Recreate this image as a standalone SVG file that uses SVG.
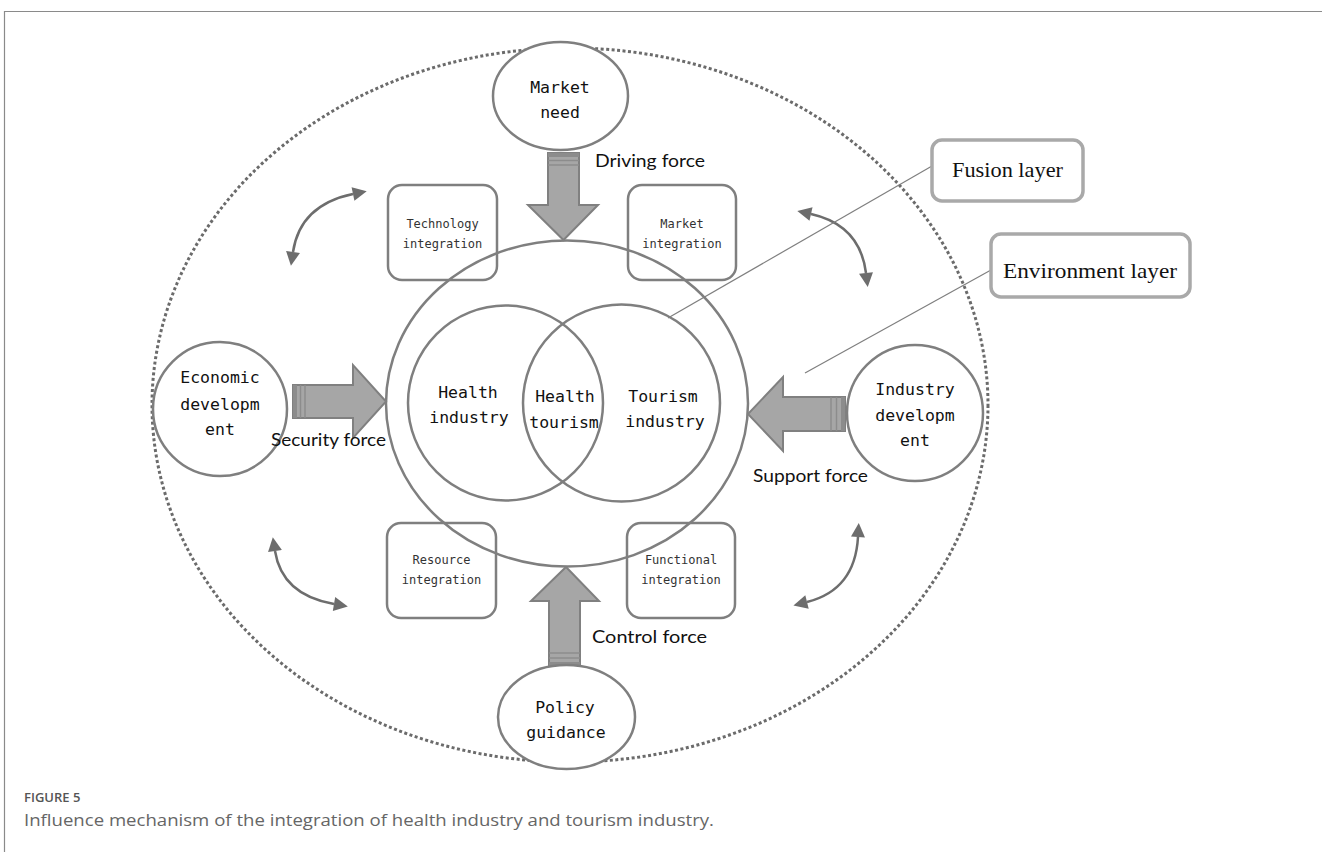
<svg xmlns="http://www.w3.org/2000/svg" width="1322" height="852" viewBox="0 0 1322 852">
<style>
.frame{stroke:#8a8a8a;stroke-width:1.2;fill:none}
.outer{fill:none;stroke:#6b6b6b;stroke-width:3;stroke-dasharray:3 2.5}
.shape{fill:none;stroke:#7f7f7f;stroke-width:2.5}
.node{fill:#fff;stroke:#7f7f7f;stroke-width:2.5}
.box{fill:none;stroke:#7f7f7f;stroke-width:2.5}
.lbox{fill:#fff;stroke:#a9a9a9;stroke-width:3.5}
.arrow{fill:#a6a6a6;stroke:#808080;stroke-width:2}
.stripe{fill:#8c8c8c}
.sline{stroke:#8c8c8c;stroke-width:1.5}
.curve{fill:none;stroke:#6d6d6d;stroke-width:2.5}
.leader{stroke:#7f7f7f;stroke-width:1.2}
.mono{font-family:"DejaVu Sans Mono","Liberation Mono",monospace;fill:#111;text-anchor:middle}
.big{font-size:16.5px}
.small{font-size:12px;fill:#333}
.force{font-family:Lato,"Open Sans",sans-serif;font-size:18px;fill:#111}
.serif{font-family:"Liberation Serif",serif;font-size:22px;fill:#111;text-anchor:middle}
.cap1{font-family:"Open Sans",Lato,sans-serif;font-size:13px;fill:#555;font-weight:600}
.cap2{font-family:"Open Sans",Lato,sans-serif;font-size:16.5px;fill:#666}
</style>
<defs>
<marker id="ah" viewBox="0 0 10 10" refX="0" refY="5" markerUnits="userSpaceOnUse" markerWidth="15" markerHeight="14" orient="auto-start-reverse">
<path d="M0,0 L10,5 L0,10 z" fill="#6d6d6d"/>
</marker>
</defs>
<rect width="1322" height="852" fill="#fff"/>
<g id="frame">
<line class="frame" x1="4" y1="11.5" x2="1322" y2="11.5"/>
<line class="frame" x1="4.5" y1="11" x2="4.5" y2="852"/>
</g>
<g id="environment-ellipse">
<ellipse class="outer" cx="570" cy="405" rx="418" ry="357"/>
</g>
<g id="integration-boxes">
<g id="technology-integration">
<rect class="box" x="388" y="185" width="109" height="95" rx="14"/>
<text class="mono small" x="442.5" y="228">Technology</text>
<text class="mono small" x="442.5" y="248">integration</text>
</g>
<g id="market-integration">
<rect class="box" x="628" y="185" width="108" height="95" rx="14"/>
<text class="mono small" x="682" y="228">Market</text>
<text class="mono small" x="682" y="248">integration</text>
</g>
<g id="resource-integration">
<rect class="box" x="387" y="523" width="109" height="95" rx="14"/>
<text class="mono small" x="441.5" y="564">Resource</text>
<text class="mono small" x="441.5" y="584">integration</text>
</g>
<g id="functional-integration">
<rect class="box" x="627" y="523" width="108" height="95" rx="14"/>
<text class="mono small" x="681" y="564">Functional</text>
<text class="mono small" x="681" y="584">integration</text>
</g>
</g>
<g id="fusion-circle">
<ellipse class="shape" cx="567" cy="403.5" rx="181" ry="163"/>
</g>
<g id="health-industry">
<circle class="shape" cx="505.5" cy="403" r="97.5"/>
<text class="mono big" x="468" y="398">Health</text>
<text class="mono big" x="469" y="423">industry</text>
</g>
<g id="tourism-industry">
<circle class="shape" cx="621.5" cy="403" r="98.5"/>
<text class="mono big" x="663" y="402">Tourism</text>
<text class="mono big" x="665" y="427">industry</text>
</g>
<g id="health-tourism">
<text class="mono big" x="565" y="402">Health</text>
<text class="mono big" x="564" y="428">tourism</text>
</g>
<g id="connectors">
<g id="driving-arrow">
<polygon class="arrow" points="548,153 579,153 579,205 598,205 563.5,240 528,205 548,205"/>
<rect class="stripe" x="548" y="153" width="31" height="4"/>
<line class="sline" x1="548" y1="160.5" x2="579" y2="160.5"/>
<line class="sline" x1="548" y1="165" x2="579" y2="165"/>
</g>
<g id="control-arrow">
<polygon class="arrow" points="549,666 580,666 580,601 599,601 566,567 531,601 549,601"/>
<rect class="stripe" x="549" y="662" width="31" height="4"/>
<line class="sline" x1="549" y1="658" x2="580" y2="658"/>
<line class="sline" x1="549" y1="653" x2="580" y2="653"/>
</g>
<g id="security-arrow">
<polygon class="arrow" points="293,385 353,385 353,365 386,401.5 353,438 353,418 293,418"/>
<rect class="stripe" x="293" y="385" width="4" height="33"/>
<line class="sline" x1="300.5" y1="385" x2="300.5" y2="418"/>
<line class="sline" x1="305" y1="385" x2="305" y2="418"/>
</g>
<g id="support-arrow">
<polygon class="arrow" points="845,397 783,397 783,377 748,414 783,451 783,431 845,431"/>
<rect class="stripe" x="841" y="397" width="4" height="34"/>
<line class="sline" x1="836.5" y1="397" x2="836.5" y2="431"/>
<line class="sline" x1="831" y1="397" x2="831" y2="431"/>
</g>
<path class="curve" d="M293 252 Q300 205 353 194" marker-start="url(#ah)" marker-end="url(#ah)"/>
<path class="curve" d="M811 214 Q860 225 866 273" marker-start="url(#ah)" marker-end="url(#ah)"/>
<path class="curve" d="M275 551 Q282 595 334 604" marker-start="url(#ah)" marker-end="url(#ah)"/>
<path class="curve" d="M858 537 Q855 590 807 602" marker-start="url(#ah)" marker-end="url(#ah)"/>
<line class="leader" x1="932" y1="166" x2="668" y2="318"/>
<line class="leader" x1="991" y1="270" x2="805" y2="373"/>
</g>
<g id="market-need">
<ellipse class="node" cx="560.5" cy="96" rx="67.5" ry="54"/>
<text class="mono big" x="560" y="93">Market</text>
<text class="mono big" x="560" y="118">need</text>
</g>
<g id="policy-guidance">
<ellipse class="node" cx="566.5" cy="717" rx="68.5" ry="52"/>
<text class="mono big" x="565" y="713">Policy</text>
<text class="mono big" x="566" y="738">guidance</text>
</g>
<g id="economic-development">
<circle class="node" cx="220" cy="409" r="67"/>
<text class="mono big" x="220" y="383">Economic</text>
<text class="mono big" x="220" y="410">developm</text>
<text class="mono big" x="220" y="435">ent</text>
</g>
<g id="industry-development">
<circle class="node" cx="915" cy="413" r="68"/>
<text class="mono big" x="915" y="395">Industry</text>
<text class="mono big" x="915" y="421">developm</text>
<text class="mono big" x="915" y="446">ent</text>
</g>
<g id="force-labels">
<text class="force" x="595" y="167" textLength="110" lengthAdjust="spacingAndGlyphs">Driving force</text>
<text class="force" x="271" y="446" textLength="115" lengthAdjust="spacingAndGlyphs">Security force</text>
<text class="force" x="753" y="482" textLength="115" lengthAdjust="spacingAndGlyphs">Support force</text>
<text class="force" x="592" y="643" textLength="115" lengthAdjust="spacingAndGlyphs">Control force</text>
</g>
<g id="fusion-layer">
<rect class="lbox" x="932" y="140" width="151" height="61" rx="10"/>
<text class="serif" x="1007.5" y="177" textLength="111" lengthAdjust="spacingAndGlyphs">Fusion layer</text>
</g>
<g id="environment-layer">
<rect class="lbox" x="991" y="234" width="199" height="63" rx="10"/>
<text class="serif" x="1090" y="278" textLength="174" lengthAdjust="spacingAndGlyphs">Environment layer</text>
</g>
<g id="caption">
<text class="cap1" x="24" y="802">FIGURE 5</text>
<text class="cap2" x="24" y="826" textLength="690" lengthAdjust="spacingAndGlyphs">Influence mechanism of the integration of health industry and tourism industry.</text>
</g>
</svg>
